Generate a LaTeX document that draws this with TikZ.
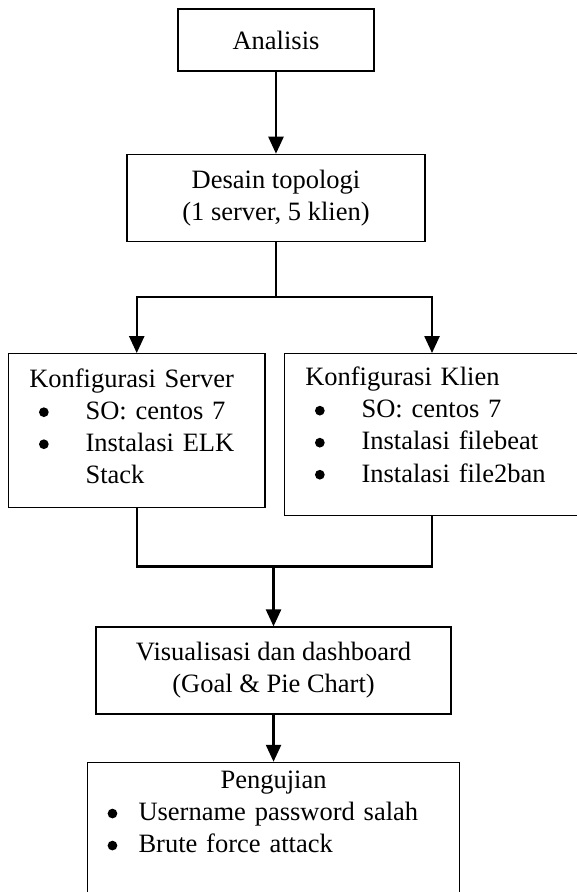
\documentclass[tikz,border=0pt]{standalone}
\usepackage{fontspec}
\setmainfont{Liberation Serif}
\usetikzlibrary{positioning,arrows.meta}
\newcommand{\titik}{\tikz[baseline={(0,-3.3pt)}]\fill (0,0) circle (2.2pt);}
\newcommand{\butir}[3]{\par\raggedright\noindent\hangindent=#2\hangafter=1\hspace*{#1}\makebox[\dimexpr #2-#1\relax][l]{\titik}#3\par}
\newcommand{\sisa}[1]{\par\vspace{#1}\hrule height 0pt}

\begin{document}
\begin{tikzpicture}[every node/.style={font=\fontsize{12}{14.5}\selectfont},
    box/.style={draw, line width=0.6pt, align=center, inner sep=4pt},
    listbox/.style={draw, line width=0.6pt, inner xsep=9.4pt, inner ysep=4pt},
    flow/.style={-{Triangle[length=7.7pt,width=6.8pt]}, line width=1.1pt},
    flowline/.style={line width=1.1pt}]
      \useasboundingbox (0,0) rectangle (9.182,-14.195);
      \node[box, minimum width=3.119cm, minimum height=0.987cm] (analisis) at (4.392,-0.637) {Analisis};
      \node[box, below=1.305cm of analisis, minimum width=4.742cm, minimum height=1.385cm] (desain) {Desain topologi\\(1 server, 5 klien)};
      \node[listbox, below=1.766cm of desain, xshift=-2.216cm, text width=3.42cm, minimum height=2.451cm] (server) {Konfigurasi Server
        \butir{4.4pt}{25.5pt}{SO: centos 7}
        \butir{4.4pt}{25.5pt}{Instalasi ELK\newline Stack}\sisa{4pt}};
      \node[listbox, below=1.766cm of desain, xshift=2.483cm, text width=4.034cm, minimum height=2.578cm] (klien) {Konfigurasi Klien
        \butir{4.4pt}{25.5pt}{SO: centos 7}
        \butir{4.4pt}{25.5pt}{Instalasi filebeat}
        \butir{4.4pt}{25.5pt}{Instalasi file2ban}\sisa{9pt}};
      \node[box, below=1.751cm of klien, xshift=-2.522cm, minimum width=5.65cm, minimum height=1.385cm] (visual) {Visualisasi dan dashboard\\(Goal \& Pie Chart)};
      \node[listbox, below=0.748cm of visual, text width=5.26cm] (uji) {{\centering Pengujian\par}
        \butir{-0.3pt}{13.7pt}{Username password salah}
        \butir{-0.3pt}{13.7pt}{Brute force attack}\sisa{24pt}};
      \coordinate[below=0.875cm of desain.south] (split);
      \coordinate[above=0.955cm of visual.north] (merge);
      \draw[flow] (analisis) -- (desain);
      \draw[flowline] (desain) -- (split);
      \draw[flow] (split) -| (server);
      \draw[flow] (split) -| (klien);
      \draw[flowline] (server) |- (merge) -| (klien);
      \draw[flow] (merge) -- (visual);
      \draw[flow] (visual) -- (uji);
\end{tikzpicture}
\end{document}
